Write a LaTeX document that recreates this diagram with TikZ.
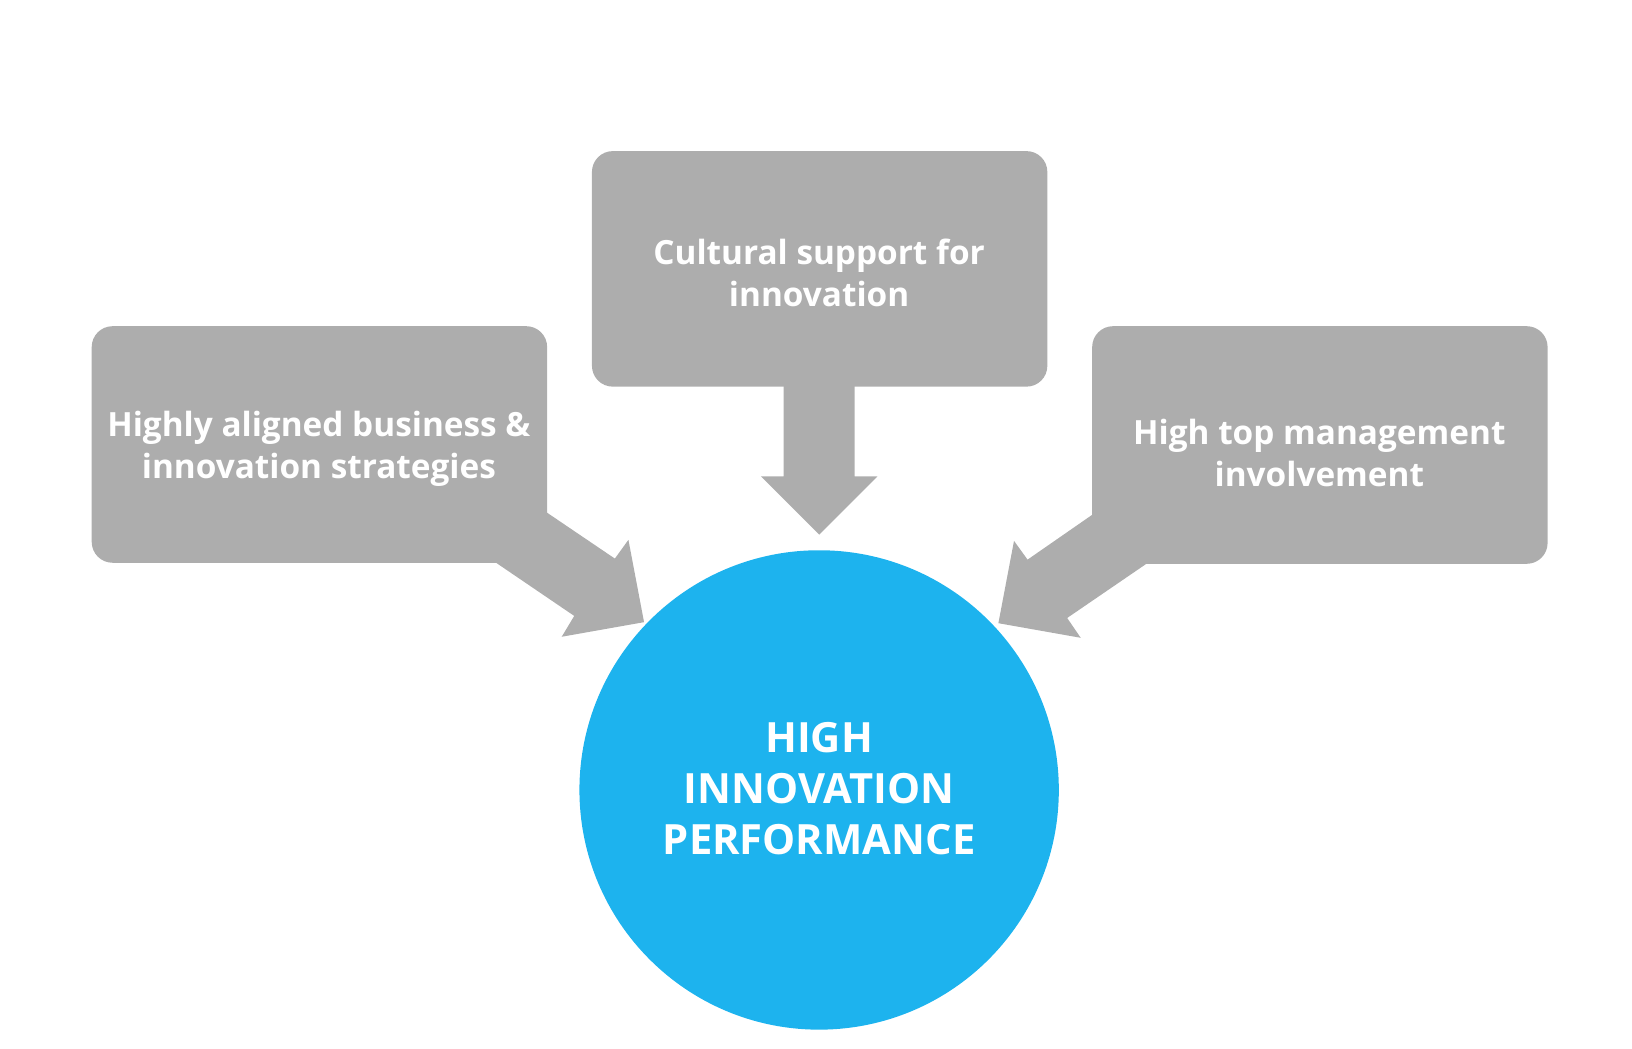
\documentclass[tikz,border=0pt]{standalone}
\usepackage{fontspec}
\setmainfont{Open Sans}
\definecolor{boxgray}{HTML}{ADADAD}
\definecolor{circblue}{HTML}{1DB3EE}
\begin{document}
\begin{tikzpicture}[x=1pt,y=-1pt,
  box/.style={fill=boxgray,draw=none,rounded corners=20pt},
  boxtext/.style={text=white,font=\bfseries\fontsize{32}{40}\selectfont,align=center},
  arr/.style={fill=boxgray,draw=none}]
\useasboundingbox (0,0) rectangle (1566,1006);
% center
\filldraw[box] (568,145) rectangle (1005,371);
\fill[arr] (752,365) -- (820,365) -- (820,457) -- (842,457) -- (786,513) -- (730,457) -- (752,457) -- cycle;
\node[boxtext] (c) at (786,262) {Cultural support for\\innovation};
% left
\filldraw[box] (88,313) rectangle (525,540);
\fill[arr] (520,489) -- (525,492) -- (590,536) -- (603,518) -- (618,597) -- (539,611) -- (551,591) -- (476,540) -- (470,535) -- cycle;
\node[boxtext] (l) at (306,431) {Highly aligned business \&\\innovation strategies};
% right
\filldraw[box] (1048,313) rectangle (1485,541);
\fill[arr] (1053,491) -- (1048,494) -- (986,537) -- (973,519) -- (958,598) -- (1037,612) -- (1024,593) -- (1100,541) -- (1106,536) -- cycle;
\node[boxtext] (r) at (1266,435) {High top management\\involvement};
% circle
\fill[circblue] (786,758) circle (230);
\node[text=white,font=\bfseries\fontsize{40}{49}\selectfont,align=center] (h) at (786,757) {HIGH\\INNOVATION\\PERFORMANCE};
\end{tikzpicture}
\end{document}
